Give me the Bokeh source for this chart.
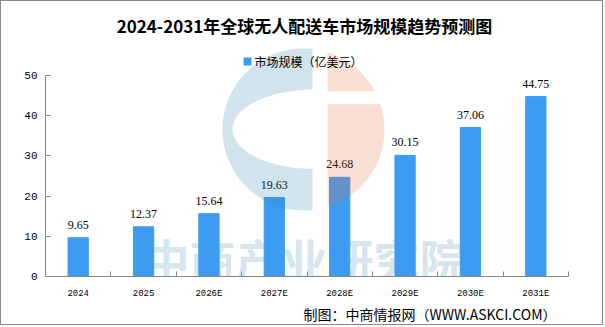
import numpy as np
from bokeh.plotting import figure
from bokeh.models import (Range1d, FixedTicker, ColumnDataSource, Label, LabelSet,
                          PolyAnnotation, BoxAnnotation, Title)
from bokeh.embed import file_html
from bokeh.resources import INLINE

# ---------------- data ----------------
categories = ["2024", "2025", "2026E", "2027E", "2028E", "2029E", "2030E", "2031E"]
values = [9.65, 12.37, 15.64, 19.63, 24.68, 30.15, 37.06, 44.75]
value_labels = ["9.65", "12.37", "15.64", "19.63", "24.68", "30.15", "37.06", "44.75"]
y_ticks = [0, 10, 20, 30, 40, 50]
y_max = 50
title_text = "2024-2031年全球无人配送车市场规模趋势预测图"
series_name = "市场规模（亿美元）"
source_text = "制图：中商情报网（WWW.ASKCI.COM）"
watermark_text = "中商产业研究院"

# ---------------- layout (page pixels) ----------------
W, H = 605, 327
B = 1  # outer css border width
CW, CH = W - 2 * B, H - 2 * B
FL, FR, FT, FB = 45, 568, 75, 276          # frame of the 0..50 axis, page px
FRAME_TOP = 1                               # real frame top, page px
BAR = "#3d9cf2"
AXIS = "#868686"
CJK = "Noto Sans CJK SC"
NUM = "Liberation Mono"

def cx_(x):  # page px -> canvas px
    return x - B

n = len(categories)
centers = [i + 0.5 for i in range(n)]
y_top = y_max * (FB - FRAME_TOP) / (FB - FT)

p = figure(width=CW, height=CH, x_range=Range1d(0, n), y_range=Range1d(0, y_top),
           output_backend="svg", toolbar_location=None,
           min_border_left=cx_(FL), min_border_right=CW - cx_(FR),
           min_border_top=cx_(FRAME_TOP), min_border_bottom=CH - cx_(FB),
           styles={"border": "1px solid #8a8a8a"})
p.outline_line_color = None
p.xgrid.grid_line_color = None
p.ygrid.grid_line_color = None
p.background_fill_color = "white"
p.border_fill_color = "white"

# watermark text (behind bars)
p.add_layout(Label(x=cx_(303), y=cx_(256), x_units="canvas", y_units="canvas", text=watermark_text,
                   text_align="center", text_baseline="middle", text_font=CJK,
                   text_font_style="bold", text_font_size="46px",
                   text_color=(40, 126, 174), text_alpha=0.21, level="underlay"))

src = ColumnDataSource(dict(x=centers, top=values, label=value_labels))
p.vbar(x="x", top="top", width=0.31, color=BAR, source=src)

p.add_layout(LabelSet(x="x", y="top", text="label", source=src, y_offset=9,
                      text_align="center", text_baseline="bottom",
                      text_font=NUM, text_font_size="12px", text_color="black"))

# axes
yax = p.yaxis[0]
yax.ticker = FixedTicker(ticks=y_ticks, minor_ticks=[])
yax.bounds = (0, y_max)
yax.axis_line_color = AXIS
yax.major_tick_line_color = AXIS
yax.major_tick_in = 5
yax.major_tick_out = 0
yax.minor_tick_line_color = None
yax.major_label_standoff = 8
yax.major_label_text_font = NUM
yax.major_label_text_font_size = "11px"
yax.major_label_text_color = "black"

xax = p.xaxis[0]
xax.ticker = FixedTicker(ticks=centers, minor_ticks=list(range(n + 1)))
xax.major_label_overrides = {c: lab for c, lab in zip(centers, categories)}
xax.axis_line_color = AXIS
xax.major_tick_line_color = None
xax.minor_tick_line_color = AXIS
xax.minor_tick_in = 5
xax.minor_tick_out = 0
xax.major_label_standoff = 6
xax.major_label_text_font = NUM
xax.major_label_text_font_size = "9px"
xax.major_label_text_color = "black"

# logo watermark (page px -> canvas px)
ccx, ccy, r = cx_(302.0), cx_(128.0), 81.0
def arc(t0, t1, k=60):
    t = np.radians(np.linspace(t0, t1, k))
    return list(ccx + r * np.cos(t)), list(ccy - r * np.sin(t))

xcut = cx_(311.0)
t1 = np.degrees(np.arccos((xcut - ccx) / r))
axs, ays = arc(t1, 360 - t1)
ex, ey, ea, eb = xcut, cx_(127.8), 80.0, 39.5
s = np.radians(np.linspace(270, 90, 60))
bxs = axs + list(ex + ea * np.cos(s))
bys = ays + list(ey - eb * np.sin(s))
p.add_layout(PolyAnnotation(xs=bxs, ys=bys, xs_units="canvas", ys_units="canvas",
                            fill_color=(40, 126, 174), fill_alpha=0.21, line_color=None))

xl, band_top, band_bot = cx_(326.0), cx_(90.0), cx_(102.7)
ta = np.degrees(np.arctan2(np.sqrt(r**2 - (xl - ccx)**2), xl - ccx))
tb = np.degrees(np.arcsin((ccy - band_top) / r))
ux, uy = arc(ta, tb)
p.add_layout(PolyAnnotation(xs=ux + [xl], ys=uy + [band_top], xs_units="canvas", ys_units="canvas",
                            fill_color=(232, 114, 60), fill_alpha=0.22, line_color=None))
tc = np.degrees(np.arcsin((ccy - band_bot) / r))
lx, ly = arc(tc, -ta)
p.add_layout(PolyAnnotation(xs=[xl] + lx, ys=[band_bot] + ly, xs_units="canvas", ys_units="canvas",
                            fill_color=(232, 114, 60), fill_alpha=0.22, line_color=None))

# title and legend (inside the tall frame)
p.add_layout(Label(x=cx_(303), y=cx_(24), x_units="canvas", y_units="canvas", text=title_text,
                   text_align="center", text_baseline="middle", text_font=CJK,
                   text_font_style="bold", text_font_size="17px", text_color="black"))
p.add_layout(BoxAnnotation(left=cx_(242), right=cx_(250), top=cx_(56), bottom=cx_(64),
                           left_units="canvas", right_units="canvas",
                           top_units="canvas", bottom_units="canvas",
                           fill_color=BAR, fill_alpha=1, line_color=None))
p.add_layout(Label(x=cx_(253), y=cx_(60), x_units="canvas", y_units="canvas", text=series_name,
                   text_align="left", text_baseline="middle", text_font=CJK,
                   text_font_size="12px", text_color="black"))

# source note below the axis
p.add_layout(Title(text=source_text, align="left", offset=303 - FL,
                   text_font=CJK, text_font_size="14px", text_font_style="normal",
                   text_color="black", standoff=0), "below")

open("out.html", "w").write(file_html(p, INLINE))
